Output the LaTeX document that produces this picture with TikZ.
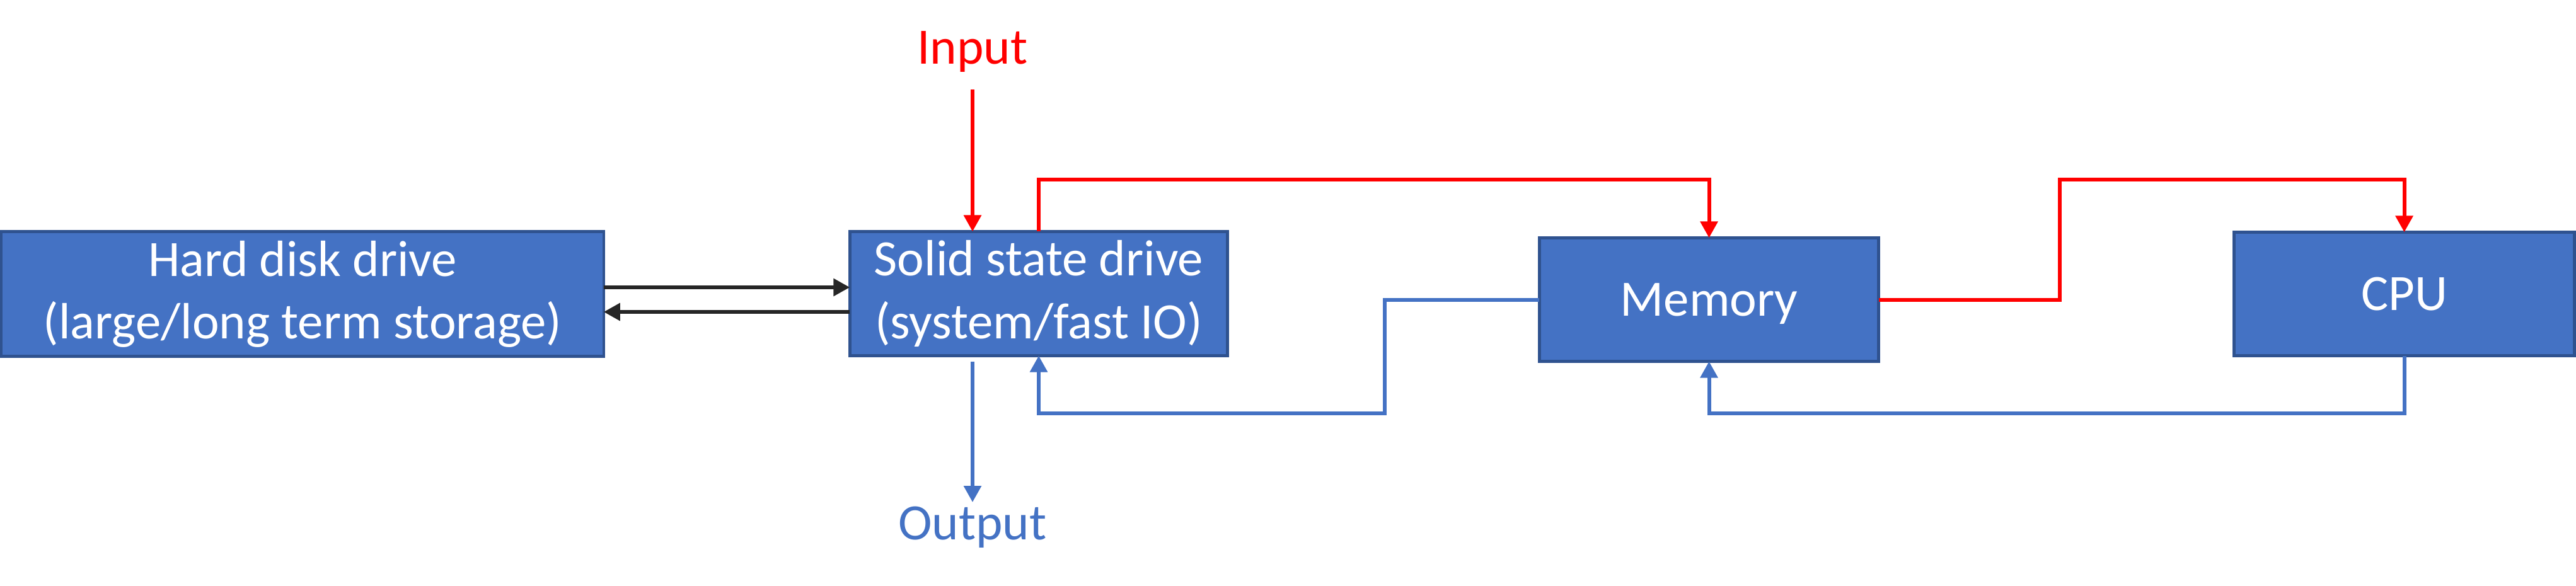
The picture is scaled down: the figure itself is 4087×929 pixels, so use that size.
\documentclass[tikz,border=0pt]{standalone}
\usepackage{fontspec}
\setmainfont{Carlito}
\usetikzlibrary{arrows.meta,calc}
\definecolor{boxfill}{HTML}{4472C4}
\definecolor{boxline}{HTML}{2F528F}
\definecolor{myred}{HTML}{FF0000}
\definecolor{myblue}{HTML}{4472C4}
\definecolor{myblack}{HTML}{262626}
\tikzset{
  blockbox/.style={draw=boxline, line width=0.045cm, fill=boxfill, text=white,
    inner sep=0pt, outer sep=0pt, align=center,
    font=\fontsize{23}{28.2}\selectfont},
  onebox/.style={blockbox, text depth=0pt},
  lbl/.style={inner sep=0pt, anchor=base, font=\fontsize{23}{28.2}\selectfont},
  conn/.style={line width=0.06cm, -{Triangle[width=0.27cm,length=0.26cm]}},
  redconn/.style={conn, draw=myred},
  blueconn/.style={conn, draw=myblue},
  blackconn/.style={conn, draw=myblack},
}
\begin{document}
\begin{tikzpicture}[x=0.01cm,y=-0.01cm]
\useasboundingbox (0,0) rectangle (4087,929);
\node[blockbox, minimum width=9.55cm, minimum height=1.98cm] (hdd) at (480,466.5)
  {Hard disk drive\\(large/long term storage)};
\node[blockbox, minimum width=5.99cm, minimum height=1.97cm] (ssd) at (1648,466)
  {Solid state drive\\(system/fast IO)};
\node[onebox, minimum width=5.38cm, minimum height=1.96cm] (mem) at (2711.5,475.5)
  {Memory};
\node[onebox, minimum width=5.40cm, minimum height=1.96cm] (cpu) at (3814.5,466.5)
  {CPU};
\node[lbl, text=myred] (in) at (1543,101) {Input};
\node[lbl, text=myblue] (out) at (1543,856) {Output};
% black arrows between HDD and SSD
\draw[blackconn] ($(hdd.east)+(0,-10.5)$) -- ($(ssd.west)+(0,-10)$);
\draw[blackconn] ($(ssd.west)+(0,29)$) -- ($(hdd.east)+(0,28.5)$);
% input / output
\draw[redconn] ($(in.base)+(0,41)$) -- ($(ssd.north)+(-105,0)$);
\draw[blueconn] ($(ssd.south)+(-105,9)$) -- ($(out.base)+(0,-59)$);
% red paths
\draw[redconn] (ssd.north) -- ++(0,-82) -| (mem.north);
\draw[redconn] (mem.east) -- ++(287,0) |- ($(cpu.north)+(0,-83)$) -- (cpu.north);
% blue paths
\draw[blueconn] (mem.west) -- ++(-245,0) |- ($(ssd.south)+(0,91)$) -- (ssd.south);
\draw[blueconn] (cpu.south) -- ++(0,91) -| (mem.south);
\end{tikzpicture}
\end{document}
